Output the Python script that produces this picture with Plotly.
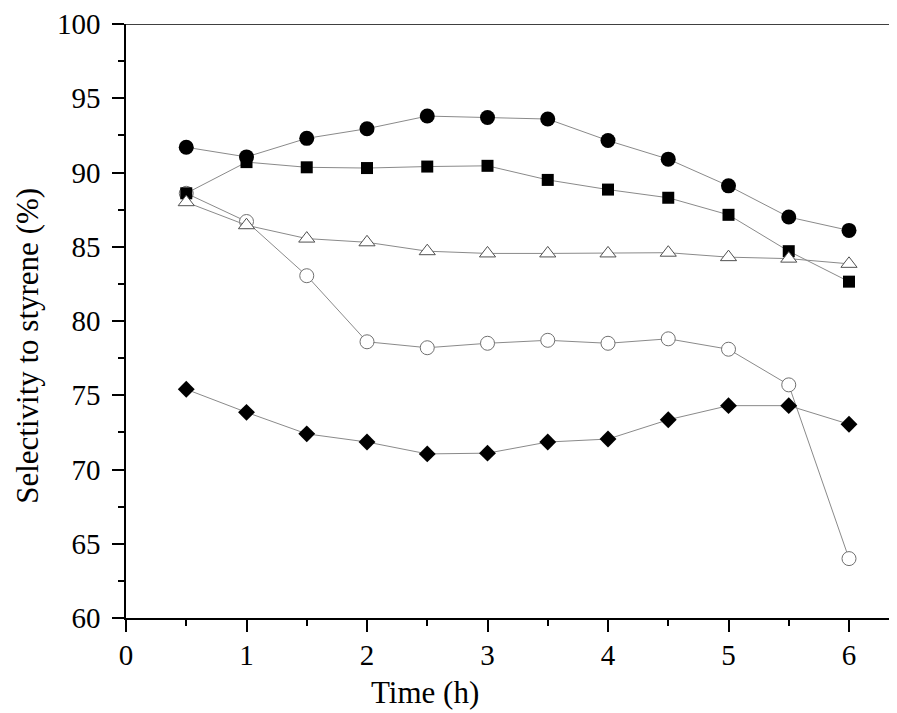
import plotly.graph_objects as go

time_h = [0.5, 1, 1.5, 2, 2.5, 3, 3.5, 4, 4.5, 5, 5.5, 6]

filled_circle = [91.7, 91.05, 92.3, 92.95, 93.8, 93.7, 93.6, 92.15, 90.9, 89.1, 87.0, 86.1]
filled_square = [88.6, 90.7, 90.35, 90.3, 90.4, 90.45, 89.5, 88.85, 88.3, 87.15, 84.7, 82.65]
open_triangle = [88.0, 86.45, 85.55, 85.3, 84.7, 84.55, 84.55, 84.55, 84.6, 84.3, 84.2, 83.85]
open_circle = [88.6, 86.7, 83.05, 78.6, 78.2, 78.5, 78.7, 78.5, 78.8, 78.1, 75.7, 64.0]
filled_diamond = [75.4, 73.85, 72.4, 71.85, 71.05, 71.1, 71.85, 72.05, 73.35, 74.3, 74.3, 73.05]

x_ticks = [0, 1, 2, 3, 4, 5, 6]
y_ticks = [60, 65, 70, 75, 80, 85, 90, 95, 100]

FONT = "Liberation Serif, Times New Roman, serif"
LINE_COLOR = "#8a8a8a"

fig = go.Figure()

def add(y, symbol, size, fill, outline, lw):
    fig.add_trace(go.Scatter(
        x=time_h, y=y, mode="lines+markers",
        line=dict(color=LINE_COLOR, width=1),
        marker=dict(symbol=symbol, size=size, color=fill,
                    line=dict(color=outline, width=lw)),
        showlegend=False, cliponaxis=False,
    ))

add(open_circle, "circle", 14, "white", "#707070", 1)
add(filled_diamond, "diamond", 13, "black", "black", 0)
add(filled_square, "square", 12, "black", "black", 0)
add(open_triangle, "triangle-up", 14, "white", "#505050", 1)
add(filled_circle, "circle", 15, "black", "black", 0)

axis_common = dict(
    showgrid=False, zeroline=False, showline=True, linecolor="black", linewidth=1.5,
    ticks="outside", ticklen=12, tickwidth=1.5, tickcolor="black",
    tickfont=dict(family=FONT, size=29, color="black"),
    ticklabeloverflow="allow",
)

# plot area in page px: left 126, right 897 (page has 8px body margin), top 20, bottom 618
PLOT_W = 771
PLOT_H = 598
X_MAX = PLOT_W / 120.5

fig.update_xaxes(range=[0, X_MAX], tickvals=x_ticks, ticktext=[str(v) for v in x_ticks],
                 minor=dict(dtick=0.5, ticklen=6, tickwidth=1.5, tickcolor="black", ticks="outside"),
                 ticklabelstandoff=-2,
                 **axis_common)
fig.update_yaxes(range=[60, 100], tickvals=y_ticks, ticktext=[str(v) for v in y_ticks],
                 minor=dict(dtick=2.5, ticklen=6, tickwidth=1.5, tickcolor="black", ticks="outside"),
                 ticklabelstandoff=6,
                 **axis_common)

fig.add_shape(type="line", xref="paper", yref="y", x0=0, x1=1, y0=100, y1=100,
              line=dict(color="black", width=1.5))

fig.add_annotation(text="Time (h)", xref="paper", yref="paper", x=(425 - 126) / PLOT_W, y=(618 - 693) / PLOT_H,
                   showarrow=False, xanchor="center", yanchor="middle",
                   font=dict(family=FONT, size=31, color="black"))
fig.add_annotation(text="Selectivity to styrene (%)", xref="paper", yref="paper",
                   x=(28 - 126) / PLOT_W, y=(618 - 344) / PLOT_H, textangle=-90, showarrow=False,
                   xanchor="center", yanchor="middle",
                   font=dict(family=FONT, size=31, color="black"))

fig.update_layout(
    width=889, height=705,
    margin=dict(l=118, r=0, t=12, b=95),
    paper_bgcolor="white", plot_bgcolor="white",
)

fig.write_html("out.html")
